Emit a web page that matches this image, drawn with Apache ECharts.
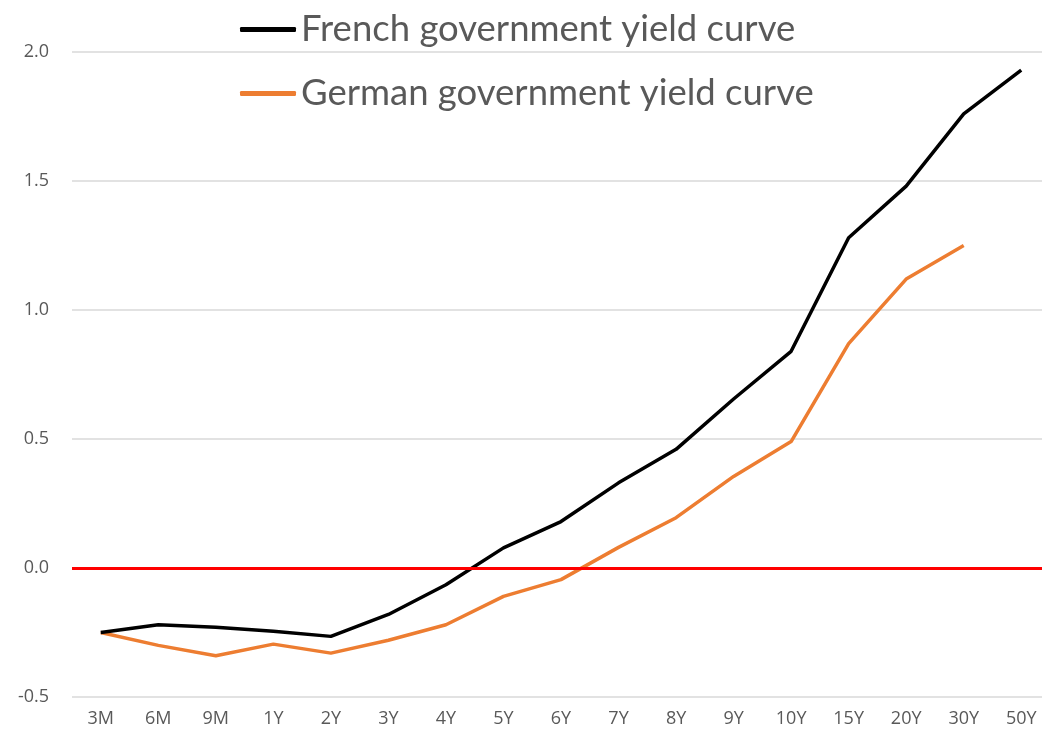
<!DOCTYPE html>
<html>
<head>
<meta charset="utf-8">
<script src="https://cdn.jsdelivr.net/npm/echarts@6/dist/echarts.min.js"></script>
<style>html,body{margin:0;padding:0;background:#fff}#c{width:1042px;height:741px}</style>
</head>
<body>
<div id="c"></div>
<script>
const categories = ['3M','6M','9M','1Y','2Y','3Y','4Y','5Y','6Y','7Y','8Y','9Y','10Y','15Y','20Y','30Y','50Y'];
const frenchYields = [-0.25,-0.22,-0.23,-0.245,-0.265,-0.18,-0.065,0.078,0.18,0.33,0.46,0.655,0.84,1.28,1.48,1.76,1.93];
const germanYields = [-0.25,-0.30,-0.34,-0.295,-0.33,-0.28,-0.22,-0.11,-0.045,0.08,0.195,0.355,0.49,0.87,1.12,1.25,null];
const yTicks = {min:-0.5, max:2.0, interval:0.5};

const chart = echarts.init(document.getElementById('c'));
chart.setOption({
  animation:false,
  backgroundColor:'#fff',
  textStyle:{fontFamily:'Lato'},
  legend:{
    orient:'vertical', left:235, top:6, itemGap:27,
    itemWidth:56, itemHeight:5, icon:'roundRect',
    textStyle:{fontSize:36.5, color:'#595959', fontFamily:'Lato'},
    data:['French government yield curve','German government yield curve']
  },
  grid:{left:72, width:978, top:52, bottom:44, containLabel:false, outerBoundsMode:'none'},
  xAxis:{
    type:'category', data:categories, boundaryGap:true,
    axisLine:{show:false}, axisTick:{show:false},
    axisLabel:{fontSize:18, color:'#595959', margin:13, fontFamily:'Open Sans'}
  },
  yAxis:{
    type:'value', min:yTicks.min, max:yTicks.max, interval:yTicks.interval,
    axisLine:{show:false}, axisTick:{show:false},
    axisLabel:{fontSize:18, color:'#595959', margin:23, formatter:v=>v.toFixed(1), fontFamily:'Open Sans'},
    splitLine:{lineStyle:{color:'#d9d9d9', width:1.5}}
  },
  series:[
    {name:'French government yield curve', type:'line', data:frenchYields,
     showSymbol:false, symbol:'none', lineStyle:{color:'#000', width:3.5}, itemStyle:{color:'#000'},
     z:3,
     markLine:{silent:true, symbol:'none', label:{show:false},
       lineStyle:{color:'#ff0000', width:3, type:'solid'}, data:[{yAxis:0}]}},
    {name:'German government yield curve', type:'line', data:germanYields,
     showSymbol:false, symbol:'none', lineStyle:{color:'#ed7d31', width:3.5}, itemStyle:{color:'#ed7d31'}, z:2}
  ]
});
</script>
</body>
</html>
